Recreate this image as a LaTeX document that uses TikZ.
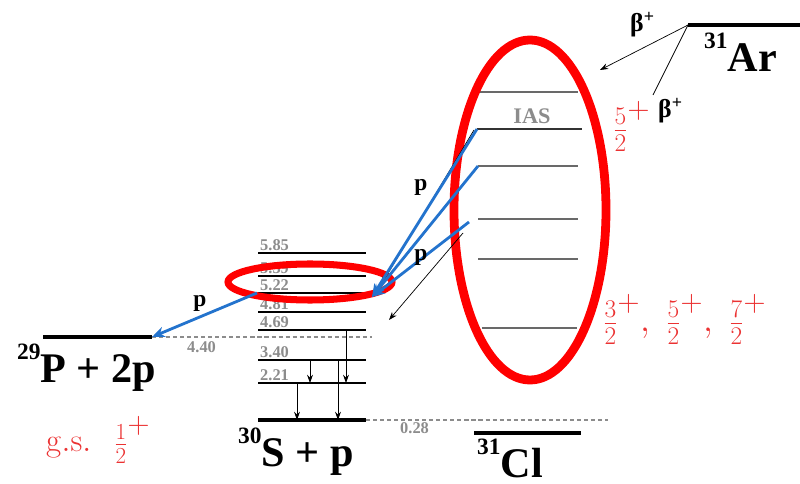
\RequirePackage{fix-cm}
\documentclass[tikz,border=0pt]{standalone}
\usepackage[no-math]{fontspec}
\setmainfont{Liberation Serif}
\usetikzlibrary{arrows.meta}

\definecolor{numgray}{RGB}{140,140,140}
\definecolor{ringgray}{RGB}{105,105,105}
\definecolor{pblue}{RGB}{35,115,205}
\definecolor{spinred}{RGB}{235,50,50}

\newcommand\nucl[2]{\raisebox{0.56em}{\fontsize{20}{20}\selectfont #1}#2}
\newcommand\halfspin[1]{\frac{#1}{2}^{\mbox{\fontsize{26}{26}\selectfont$+$}}}

\tikzset{
  level/.style={line width=0.9pt},
  gslevel/.style={line width=2.8pt},
  ringlevel/.style={ringgray, line width=1.2pt},
  threshold/.style={numgray, line width=0.9pt, dash pattern=on 3.5pt off 2.5pt},
  energy/.style={text=numgray, font=\bfseries\fontsize{14}{14}\selectfont, inner sep=0pt, anchor=base west},
  nucleus/.style={font=\bfseries\fontsize{36}{36}\selectfont, inner sep=0pt, anchor=base west},
  spin/.style={text=spinred, font=\fontsize{31}{31}\selectfont, inner sep=0pt, anchor=base west},
  betalabel/.style={font=\bfseries\fontsize{22}{22}\selectfont, inner sep=0pt, anchor=base west},
  plabel/.style={font=\bfseries\fontsize{20}{20}\selectfont, inner sep=0pt},
  decay/.style={line width=0.6pt, -{Stealth[length=7pt, width=5pt]}},
  proton/.style={pblue, line width=2.4pt, -{Stealth[length=11pt, width=9pt]}},
  ring/.style={red, line width=#1},
}

\begin{document}
\begin{tikzpicture}[x=0.03cm, y=-0.03cm]
    \useasboundingbox (0,0) rectangle (800,484);

    % levels of 30S + p
    \foreach \y/\e [count=\i] in {253/5.85, 276/5.39, 293/5.22, 312/4.81, 330/4.69, 360/3.40, 383/2.21} {
        \draw[level] (258,\y) coordinate (sl\i) -- (366,\y) coordinate (sr\i);
        \node[energy] (se\i) at (260,\y-2) {\e};
    }
    \draw[gslevel] (258,420) coordinate (sg) -- (366,420) coordinate (sgr);

    % gamma cascade
    \draw[decay] (346,0 |- sl5) -- (346,0 |- sl7);
    \draw[decay] (310,0 |- sl6) -- (310,0 |- sl7);
    \draw[decay] (297,0 |- sl7) -- (297,0 |- sg);
    \draw[decay] (338,0 |- sl6) -- (338,0 |- sg);

    % 29P + 2p threshold
    \draw[gslevel] (43,337) coordinate (pl) -- (152,337) coordinate (pr);
    \draw[threshold] (pr) -- (372,337) coordinate (pt);
    \node[energy] (e440) at (187,353) {4.40};

    % 30S + p threshold and 31Cl ground state
    \draw[threshold] (sgr) -- (608,420) coordinate (st);
    \node[energy] (e028) at (400,434) {0.28};
    \draw[gslevel] (474,433) coordinate (cll) -- (581,433) coordinate (clr);

    % 31Ar ground state
    \draw[gslevel] (688,25) coordinate (arl) -- (800,25) coordinate (arr);

    % 31Cl excited states
    \foreach \y/\a/\b [count=\i] in {92/478/578, 166/478/578, 219/478/578, 259/478/578, 328/482/577}
        \draw[ringlevel] (\a,\y) coordinate (cl\i) -- (\b,\y);
    \draw[line width=1.6pt, black!80] (477,129) coordinate (ias) -- (582,129);
    \node[font=\bfseries\fontsize{19}{19}\selectfont, text=numgray, inner sep=0pt, anchor=base] (iaslabel) at (532,124) {IAS};

    % ellipses
    \draw[ring=7.5pt] (530,210) ellipse (76 and 170);
    \draw[ring=6pt] (310,282) ellipse (82 and 18);

    % beta decay
    \coordinate (betatip) at (600,70);
    \coordinate (betafoot) at (653,95);
    \draw[decay] (arl) -- (betatip);
    \draw[line width=0.6pt] (arl) -- (betafoot);

    % thin proton lines
    \coordinate (iasp) at (474,130);
    \coordinate (sp1) at (381,285);
    \coordinate (lowp) at (463,233);
    \coordinate (sp2) at (389,320);
    \draw[decay] (iasp) -- (sp1);
    \draw[decay] (lowp) -- (sp2);

    % blue protons
    \coordinate (ptip) at (372,297);
    \coordinate (c3) at (469,222);
    \coordinate (s522) at (257,293);
    \draw[proton] (ias) -- (ptip);
    \draw[proton] (cl2) -- (ptip);
    \draw[proton] (c3) -- (ptip);
    \draw[proton] (s522) -- (pr);

    \node[plabel] (p1) at (421,187) {p};
    \node[plabel] (p2) at (421,257) {p};
    \node[plabel] (p3) at (200,303) {p};

    % nuclei
    \node[nucleus] (p29) at (17,383) {\nucl{29}{P + 2p}};
    \node[nucleus] (s30) at (238,467) {\nucl{30}{S + p}};
    \node[nucleus] (cl31) at (477,478) {\nucl{31}{Cl}};
    \node[nucleus] (ar31) at (704,72) {\nucl{31}{Ar}};

    % spins
    \node[betalabel] (arbeta) at (630,32) {β\textsuperscript{+}};
    \node[spin] (ias52) at (613,139) {$\halfspin{5}$};
    \node[betalabel] (iasbeta) at (658,118) {β\textsuperscript{+}};
    \node[spin] (spins) at (603,332) {$\halfspin{3},\;\halfspin{5},\;\halfspin{7}$};
    \node[spin, font=\fontsize{28}{28}\selectfont] (gs) at (46,452) {$\mathrm{g.s.}\hspace{0.7em}\halfspin{1}$};
\end{tikzpicture}
\end{document}
